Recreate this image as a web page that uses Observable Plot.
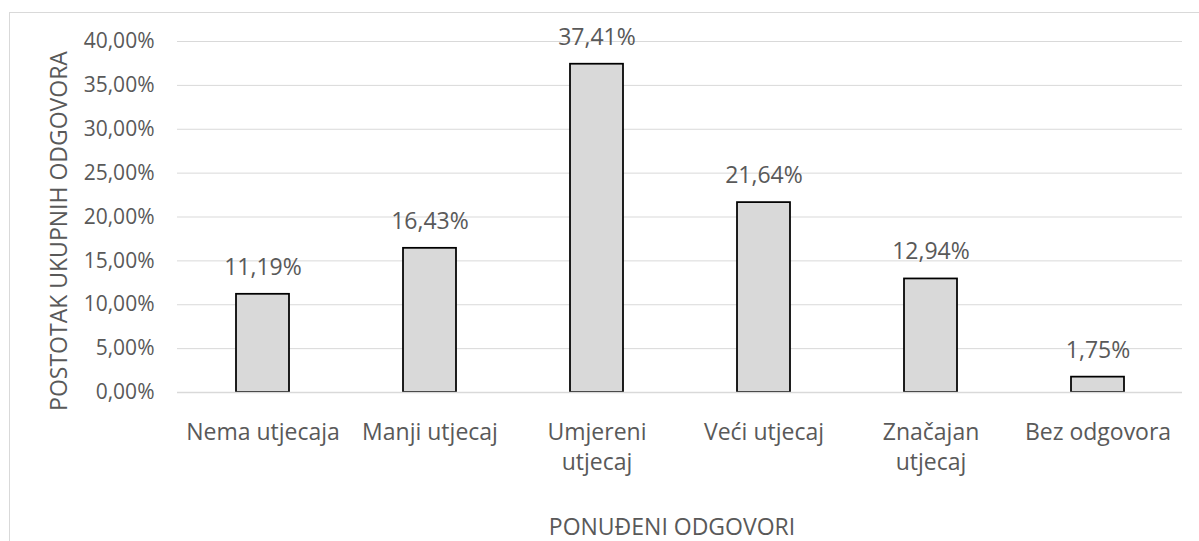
<!DOCTYPE html>
<html>
<head>
<meta charset="utf-8">
<script src="https://cdn.jsdelivr.net/npm/d3@7"></script>
<script src="https://cdn.jsdelivr.net/npm/@observablehq/plot@0.6"></script>
<style>
  html, body { margin: 0; padding: 0; background: #fff; overflow: hidden; }
  #wrap { position: relative; width: 1199px; height: 541px; }
  #border { position: absolute; left: 9px; top: 12px; width: 1300px; height: 700px; border: 1px solid #d9d9d9; box-sizing: border-box; }
  #chart { position: absolute; left: 0; top: 0; }
</style>
</head>
<body>
<div id="wrap"><div id="border"></div><div id="chart"></div></div>
<script>
const categories = ["Nema utjecaja", "Manji utjecaj", "Umjereni utjecaj", "Veći utjecaj", "Značajan utjecaj", "Bez odgovora"];
const tickLabels = ["Nema utjecaja", "Manji utjecaj", "Umjereni\nutjecaj", "Veći utjecaj", "Značajan\nutjecaj", "Bez odgovora"];
const values = [0.1119, 0.1643, 0.3741, 0.2164, 0.1294, 0.0175];
const yTicks = [0, 0.05, 0.10, 0.15, 0.20, 0.25, 0.30, 0.35, 0.40];
const yTitle = "POSTOTAK UKUPNIH ODGOVORA";
const xTitle = "PONUĐENI ODGOVORI";

const locale = d3.formatLocale({decimal: ",", thousands: ".", grouping: [3], currency: ["", " €"]});
const pct = locale.format(".2%");
const data = categories.map((c, i) => ({category: c, value: values[i]}));
const labelOf = new Map(categories.map((c, i) => [c, tickLabels[i]]));

const textColor = "#595959";
const chart = Plot.plot({
  width: 1199,
  height: 541,
  marginLeft: 177,
  marginRight: 17,
  marginTop: 41,
  marginBottom: 149,
  style: {fontFamily: "'Open Sans', sans-serif", color: textColor, background: "transparent"},
  x: {domain: categories, paddingInner: 0.684, paddingOuter: 0.342},
  y: {domain: [0, 0.4]},
  marks: [
    Plot.gridY(yTicks, {stroke: "#d9d9d9", strokeOpacity: 1, strokeWidth: 1}),
    Plot.barY(data, {x: "category", y: "value", fill: "#d9d9d9", stroke: "#000", strokeWidth: 1.75}),
    Plot.ruleY([0], {stroke: "#d9d9d9", strokeWidth: 1.5}),
    Plot.text(data, {x: "category", y: "value", text: d => pct(d.value), dy: -27, lineAnchor: "middle", fontSize: 23, fill: textColor}),
    Plot.axisY(yTicks, {tickFormat: pct, tickSize: 0, tickPadding: 23, fontSize: 21, label: null, fill: textColor}),
    Plot.axisX({tickFormat: d => labelOf.get(d), tickSize: 0, tickPadding: 26, fontSize: 23, lineHeight: 1.3, label: null, fill: textColor}),
    Plot.text([yTitle], {frameAnchor: "left", rotate: -90, dx: -118, dy: 14, textAnchor: "middle", lineAnchor: "middle", fontSize: 23, fill: textColor}),
    Plot.text([xTitle], {frameAnchor: "bottom", dx: -8, dy: 135, textAnchor: "middle", lineAnchor: "middle", fontSize: 23, fill: textColor})
  ]
});
document.getElementById("chart").appendChild(chart);
</script>
</body>
</html>
